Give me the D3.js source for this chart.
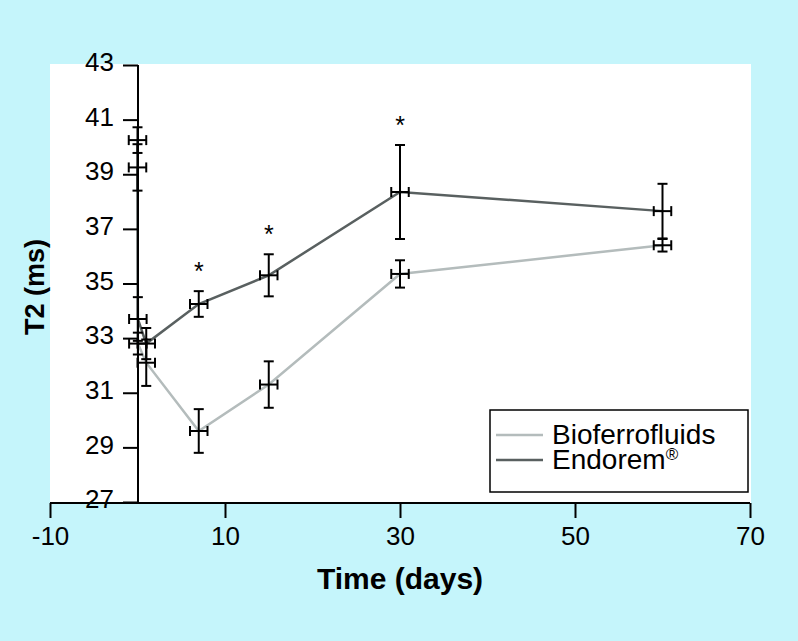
<!DOCTYPE html>
<html>
<head>
    <title>T2 over time</title>
    <script src="https://d3js.org/d3.v7.min.js"></script>
    <style>
        body { margin: 0; background: #c5f5fb; }
        text { font-family: "Liberation Sans", Arial, sans-serif; }
    </style>
</head>
<body>
    <svg width="798" height="641"></svg>

    <script>
    // days after injection (0.04 ~ 1 hour)
    const bioDays = [0, 0.04, 1, 7, 15, 30, 60];
    const bioT2 = [40.25, 32.8, 32.1, 29.6, 31.3, 35.35, 36.4];
    const bioErr = [0.47, 0.4, 0.85, 0.8, 0.85, 0.5, 0.23];

    const endDays = [0, 0.04, 1, 7, 15, 30, 60];
    const endT2 = [39.25, 33.7, 32.8, 34.25, 35.3, 38.35, 37.65];
    const endErr = [0.85, 0.8, 0.57, 0.47, 0.77, 1.72, 1.0];

    const dayErr = 1;               // horizontal error, days
    const starDays = [7, 15, 30];   // significant differences

    const xTicks = [-10, 10, 30, 50, 70];
    const yTicks = [27, 29, 31, 33, 35, 37, 39, 41, 43];

    const svg = d3.select("svg");

    const x = d3.scaleLinear().domain([-10, 70]).range([50, 750]);
    const y = d3.scaleLinear().domain([27, 43]).range([502, 65]);

    // plot background
    svg.append("rect")
        .attr("x", 50).attr("y", 64)
        .attr("width", 701).attr("height", 439)
        .style("fill", "white");

    const series = [
        { name: "Bioferrofluids", days: bioDays, t2: bioT2, err: bioErr, color: "#b4bcbc" },
        { name: "Endorem", days: endDays, t2: endT2, err: endErr, color: "#596060" }
    ];

    const line = d3.line().x(d => x(d.day)).y(d => y(d.v));

    series.forEach(s => {
        const pts = s.days.map((d, i) => ({ day: d, v: s.t2[i], e: s.err[i] }));
        s.pts = pts;
        svg.append("path")
            .datum(pts)
            .attr("d", line)
            .style("fill", "none")
            .style("stroke", s.color)
            .style("stroke-width", 2.5);
    });

    // error bars
    series.forEach(s => {
        const g = svg.append("g").style("stroke", "black").style("stroke-width", 2);
        s.pts.forEach(p => {
            const cx = x(p.day), cy = y(p.v);
            const t = y(p.v + p.e), b = y(p.v - p.e);
            const l = x(p.day - dayErr), r = x(p.day + dayErr);
            g.append("line").attr("x1", cx).attr("x2", cx).attr("y1", t).attr("y2", b);
            g.append("line").attr("x1", cx - 5).attr("x2", cx + 5).attr("y1", t).attr("y2", t);
            g.append("line").attr("x1", cx - 5).attr("x2", cx + 5).attr("y1", b).attr("y2", b);
            g.append("line").attr("x1", l).attr("x2", r).attr("y1", cy).attr("y2", cy);
            g.append("line").attr("x1", l).attr("x2", l).attr("y1", cy - 5).attr("y2", cy + 5);
            g.append("line").attr("x1", r).attr("x2", r).attr("y1", cy - 5).attr("y2", cy + 5);
        });
    });

    // stars above Endorem error bars
    const endPts = series[1].pts;
    svg.selectAll(".star")
        .data(starDays)
        .enter().append("text")
        .attr("class", "star")
        .attr("x", d => x(d))
        .attr("y", d => {
            const p = endPts.find(q => q.day === d);
            return y(p.v + p.e) - 11;
        })
        .attr("text-anchor", "middle")
        .style("font-size", "25px")
        .text("*");

    // axes
    const xAxis = d3.axisBottom(x).tickValues(xTicks).tickSize(15).tickPadding(9).tickFormat(d => String(d));
    const gx = svg.append("g").attr("transform", "translate(0,503)").call(xAxis);
    gx.select(".domain").attr("d", "M50,0H750").style("stroke-width", 2);
    gx.selectAll(".tick line").style("stroke-width", 2);
    gx.selectAll(".tick text").style("font-size", "26px").style("fill", "black");

    const yAxis = d3.axisLeft(y).tickValues(yTicks).tickSize(15).tickPadding(9);
    const gy = svg.append("g").attr("transform", "translate(138,0)").call(yAxis);
    gy.select(".domain").attr("d", "M0,65V503").style("stroke-width", 2);
    gy.selectAll(".tick line").style("stroke-width", 2);
    gy.selectAll(".tick text").style("font-size", "26px").style("fill", "black")
        .attr("dy", "0.22em");

    svg.append("text")
        .attr("x", 400).attr("y", 589)
        .attr("text-anchor", "middle")
        .style("font-size", "30px").style("font-weight", "bold")
        .text("Time (days)");

    svg.append("text")
        .attr("transform", "translate(44,287) rotate(-90)")
        .attr("text-anchor", "middle")
        .style("font-size", "27px").style("font-weight", "bold")
        .text("T2 (ms)");

    // legend
    const lg = svg.append("g");
    lg.append("rect")
        .attr("x", 490).attr("y", 410).attr("width", 258).attr("height", 82)
        .style("fill", "white").style("stroke", "black").style("stroke-width", 1.5);
    series.forEach((s, i) => {
        const ly = 435 + i * 25;
        lg.append("line")
            .attr("x1", 496).attr("x2", 543).attr("y1", ly).attr("y2", ly)
            .style("stroke", s.color).style("stroke-width", 2.5);
        const t = lg.append("text")
            .attr("x", 552).attr("y", ly + 9)
            .style("font-size", "28px");
        t.append("tspan").text(s.name);
        if (s.name === "Endorem") {
            t.append("tspan").attr("dy", "-0.55em").style("font-size", "17px").text("®");
        }
    });
    </script>
</body>
</html>
